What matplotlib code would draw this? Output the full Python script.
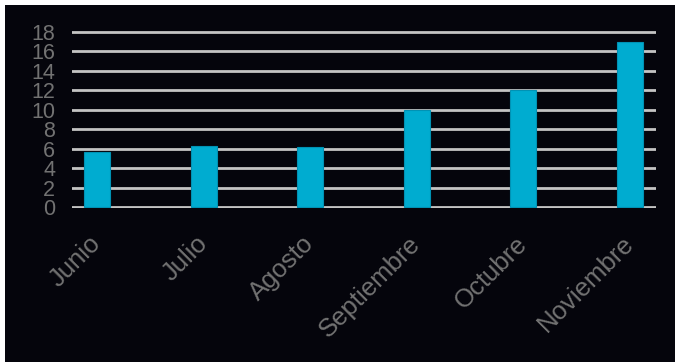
import matplotlib
matplotlib.use("Agg")
import matplotlib.pyplot as plt
from matplotlib.patches import Rectangle

meses = ["Junio", "Julio", "Agosto", "Septiembre", "Octubre", "Noviembre"]
valores = [5.7, 6.3, 6.2, 10.0, 12.0, 17.0]
yticks = [0, 2, 4, 6, 8, 10, 12, 14, 16, 18]

fondo = "#05050c"
barra = "#00acd0"
texto = "#727272"
rejilla = "#c4c4c4"

plt.rcParams["font.family"] = ["Liberation Sans", "DejaVu Sans"]

fig = plt.figure(figsize=(6.75, 3.62), dpi=100)
fig.patch.set_facecolor("white")
# fondo negro que deja un borde blanco arriba y a la izquierda
fig.patches.append(Rectangle((5 / 675, 0), 1, 1 - 5 / 362, transform=fig.transFigure,
                             facecolor=fondo, edgecolor="none", zorder=-5))

ax = fig.add_axes([72 / 675, 1 - 208 / 362, 584 / 675, 177 / 362])
ax.set_zorder(2)
ax.set_facecolor(fondo)

x = list(range(len(meses)))
ax.bar(x, valores, width=0.245, color=barra, edgecolor="#0092b4", linewidth=0.8, zorder=3)

ax.set_xlim(-0.235, 5.244)
ax.set_ylim(-0.1, 18.1)
ax.set_yticks(yticks)
for v in yticks:
    ax.axhline(v, color=rejilla, linewidth=2, zorder=2)

ax.set_xticks(x)
ax.set_xticklabels(meses, rotation=45, ha="right", va="center", rotation_mode="anchor")
ax.tick_params(axis="x", length=0, pad=23, labelsize=18.5, labelcolor=texto)
ax.tick_params(axis="y", length=0, pad=12, labelsize=15.5, labelcolor=texto)

for s in ax.spines.values():
    s.set_visible(False)

fig.savefig("out.png", dpi=100, facecolor=fig.get_facecolor())
